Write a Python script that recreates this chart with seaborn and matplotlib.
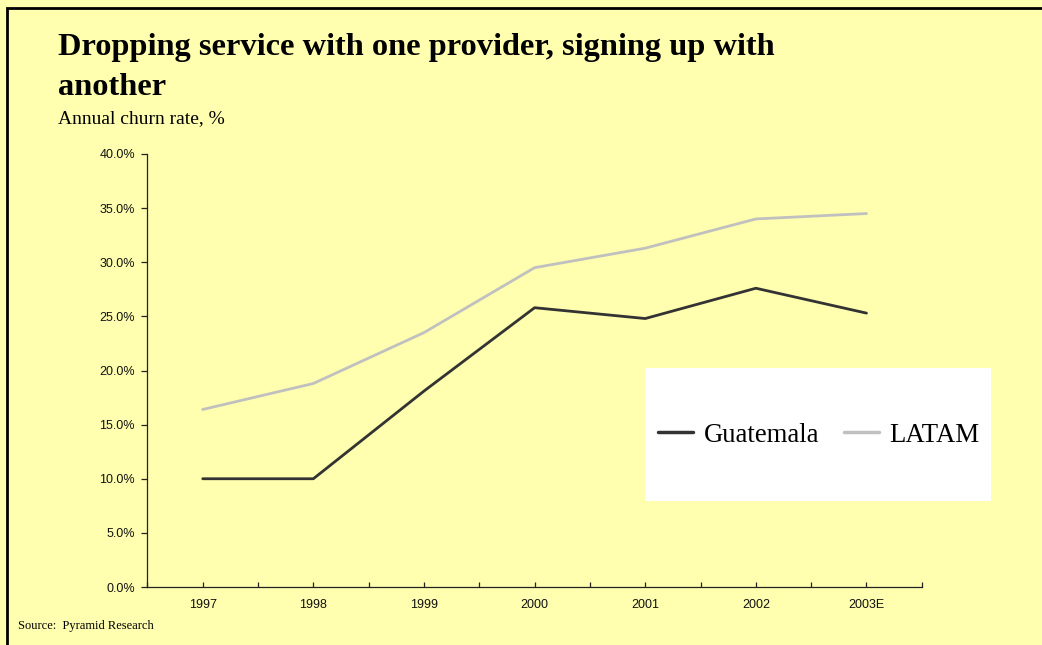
import matplotlib
matplotlib.use("Agg")
import matplotlib.pyplot as plt
from matplotlib.lines import Line2D
from matplotlib.patches import Rectangle
from matplotlib.ticker import FixedLocator, FuncFormatter
import numpy as np
import pandas as pd
import seaborn as sns

# Annual churn rate (%) by year
years = ["1997", "1998", "1999", "2000", "2001", "2002", "2003E"]
guatemala = [10.0, 10.0, 18.1, 25.8, 24.8, 27.6, 25.3]
latam = [16.4, 18.8, 23.5, 29.5, 31.3, 34.0, 34.5]
series_names = ["Guatemala", "LATAM"]
y_ticks = [0, 5, 10, 15, 20, 25, 30, 35, 40]

title_lines = ["Dropping service with one provider, signing up with", "another"]
subtitle = "Annual churn rate, %"
source = "Source:  Pyramid Research"

BG = "#FFFFAF"
COLORS = {"Guatemala": "#333333", "LATAM": "#C0C0C0"}

df = pd.DataFrame({
    "year": years * 2,
    "rate": guatemala + latam,
    "series": [series_names[0]] * len(years) + [series_names[1]] * len(years),
})

sns.set_theme(style="white")
plt.rcParams["font.family"] = ["Liberation Sans", "DejaVu Sans"]
plt.rcParams["text.color"] = "black"

W, H = 1042, 645
fig = plt.figure(figsize=(W / 100, H / 100), dpi=100, facecolor=BG)
ax = fig.add_axes([147.4 / W, 1 - 587 / H, (921.8 - 147.4) / W, (587 - 154) / H])
ax.set_facecolor(BG)

sns.lineplot(data=df, x="year", y="rate", hue="series", palette=COLORS,
             linewidth=2.0, sort=False, ax=ax, legend=False)

n = len(years)
ax.set_xlim(-0.5, n - 0.5)
ax.set_ylim(y_ticks[0], y_ticks[-1])
ax.set_xlabel("")
ax.set_ylabel("")

for side in ("top", "right"):
    ax.spines[side].set_visible(False)
for side in ("left", "bottom"):
    ax.spines[side].set_color("#222222")
    ax.spines[side].set_linewidth(0.9)

ax.set_xticks(np.arange(n))
ax.set_xticklabels(years)
ax.xaxis.set_minor_locator(FixedLocator(np.arange(n + 1) - 0.5))
ax.tick_params(axis="x", which="both", direction="in", length=3.5, width=0.9,
               color="#222222", bottom=True, labelsize=9, pad=9, labelcolor="#111111")
ax.yaxis.set_major_locator(FixedLocator(y_ticks))
ax.yaxis.set_major_formatter(FuncFormatter(lambda v, p: f"{v:.1f}%"))
ax.tick_params(axis="y", which="major", direction="out", length=4, width=0.9,
               color="#222222", left=True, labelsize=9, pad=5, labelcolor="#111111")
ax.grid(False)

# legend panel
fig.patches.append(Rectangle((645 / W, 1 - 501 / H), 346 / W, 133 / H,
                             transform=fig.transFigure, facecolor="white",
                             edgecolor="none", zorder=5))
handles = [Line2D([], [], color=COLORS[s], linewidth=2.5) for s in series_names]
leg = fig.legend(handles, series_names, loc="center",
                 bbox_to_anchor=(819 / W, 1 - 435 / H), ncol=2, frameon=False,
                 prop={"family": "Liberation Serif", "size": 19.3},
                 handlelength=1.3, handletextpad=0.38, columnspacing=0.95,
                 labelcolor="black")
leg.set_zorder(6)

# titles and source
serif = "Liberation Serif"
fig.text(58 / W, 1 - 55 / H, title_lines[0], family=serif, weight="bold",
         size=23.3, va="baseline", ha="left", color="black")
fig.text(58 / W, 1 - 95 / H, title_lines[1], family=serif, weight="bold",
         size=23.3, va="baseline", ha="left", color="black")
fig.text(58 / W, 1 - 123 / H, subtitle, family=serif, size=14,
         va="baseline", ha="left", color="black")
fig.text(18 / W, 1 - 629 / H, source, family=serif, size=9,
         va="baseline", ha="left", color="black")

# outer frame
frame_x = 6.5 / W
frame_y = 1 - 7.5 / H
fig.lines.append(Line2D([frame_x, frame_x, 1.0], [0.0, frame_y, frame_y],
                        transform=fig.transFigure, color="black",
                        linewidth=2.0, solid_joinstyle="miter"))

fig.savefig("out.png", dpi=100, facecolor=BG)
